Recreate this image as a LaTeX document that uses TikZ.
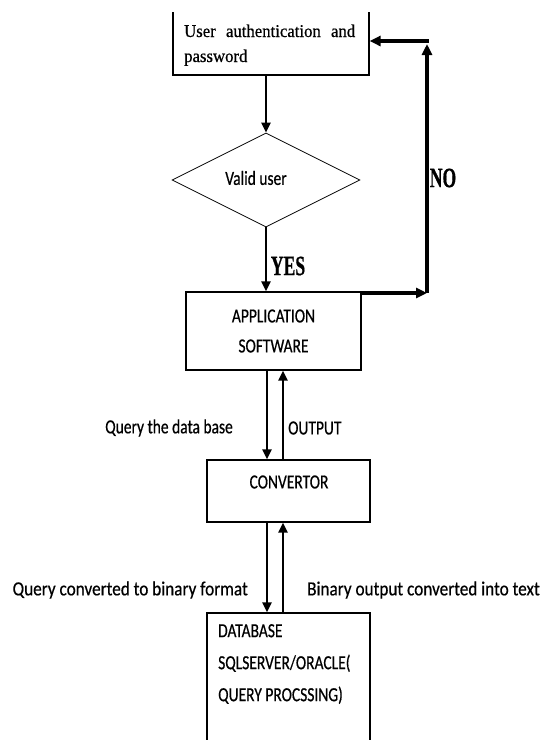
\documentclass[tikz,border=0pt]{standalone}
\usepackage{fontspec}
\usetikzlibrary{shapes.geometric,arrows.meta}
% Narrowed faces: tall letters, as in the chart
\newfontfamily\calib[FakeStretch=0.775,FakeBold=0.5]{Carlito}
\newfontfamily\calibwide[FakeStretch=0.86,FakeBold=0.5]{Carlito}
\newfontfamily\serifA[FakeStretch=0.93,FakeBold=0.6]{Liberation Serif}
\newfontfamily\serifB[FakeStretch=0.63,FakeBold=0.6]{Liberation Serif}
\begin{document}
\begin{tikzpicture}[x=1pt,y=-1pt,
  box/.style={draw, line width=1.2pt, inner sep=0pt},
  flow/.style={line width=2.6pt, -{Triangle[length=10pt,width=9pt]}},
  heavy/.style={line width=3.2pt, -{Triangle[length=11pt,width=10pt]}},
  sanstext/.style={font=\calib\fontsize{20}{30}\selectfont, inner sep=0pt},
  widetext/.style={font=\calibwide\fontsize{20}{30}\selectfont, inner sep=0pt},
  yesno/.style={font=\serifB\bfseries\fontsize{28}{30}\selectfont, inner sep=0pt}]
\useasboundingbox (0,0) rectangle (545,740);
\fill[white] (0,0) rectangle (545,740);
\clip (0,12) rectangle (545,740);

% boxes
\node[box, minimum width=196pt, minimum height=95pt] (auth) at (271,27.5) {};
\node[draw, line width=0.8pt, shape=diamond, inner sep=0pt,
      minimum width=188pt, minimum height=94pt] (valid) at (266,180) {};
\node[box, minimum width=175pt, minimum height=78pt, align=center,
      font=\calib\fontsize{20}{30}\selectfont] (app) at (273.5,331)
      {APPLICATION\\SOFTWARE};
\node[box, minimum width=163pt, minimum height=62pt] (conv) at (288.5,491) {};
\node[box, minimum width=163pt, minimum height=147pt] (db) at (288.5,686.5) {};

% texts inside the boxes
\node[font=\serifA\fontsize{18}{25}\selectfont, text width=171pt, align=justify,
      inner sep=0pt, anchor=base west] (authtext) at (184,37)
      {User authentication and password};
\node[sanstext] (validtext) at (256,178) {Valid user};
\node[sanstext] (convtext) at (289,482) {CONVERTOR};
\node[font=\calib\fontsize{20}{32}\selectfont, align=left, inner sep=0pt,
      anchor=north west] (dbtext) at (218,624)
      {DATABASE\\SQLSERVER/ORACLE(\\QUERY PROCSSING)};

% main flow
\draw[flow] (auth.south -| valid.north) -- (valid.north);
\draw[flow] (valid.south) -- (valid.south |- app.north);
\draw[flow] ([xshift=-6.5pt]app.south) -- ([xshift=-6.5pt]app.south |- conv.north);
\draw[flow] ([xshift=9.5pt]app.south |- conv.north) -- ([xshift=9.5pt]app.south);
\draw[flow] ([xshift=-21.5pt]conv.south) -- ([xshift=-21.5pt]conv.south |- db.north);
\draw[flow] ([xshift=-5.5pt]conv.south |- db.north) -- ([xshift=-5.5pt]conv.south);

% NO loop back to the login box
\coordinate (nocorner) at (427,293);
\coordinate (notop) at (427,41);
\draw[heavy] (app.north east |- nocorner) -- (nocorner);
\draw[heavy] (nocorner) -- ([yshift=-3pt]notop);
\draw[heavy, line cap=rect] (notop) -- (auth.east |- notop);

% labels
\node[yesno] (yes) at (288,266) {YES};
\node[yesno] (no) at (443,178) {NO};
\node[sanstext, anchor=east] (qdb) at (233,428) {Query the data base};
\node[sanstext, anchor=west] (out) at (288,428) {OUTPUT};
\node[widetext, anchor=east] (qbin) at (248,590) {Query converted to binary format};
\node[widetext, anchor=west] (bout) at (307,590) {Binary output converted into text};
\end{tikzpicture}
\end{document}
